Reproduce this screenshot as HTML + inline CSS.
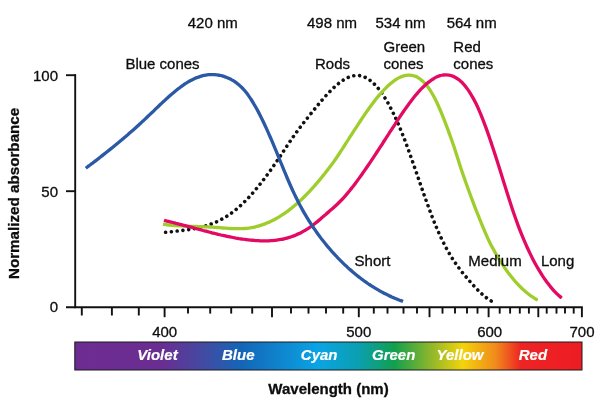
<!DOCTYPE html>
<html><head><meta charset="utf-8"><style>
html,body{margin:0;padding:0;background:#fff;}
body{width:600px;height:408px;position:relative;overflow:hidden;font-family:"Liberation Sans",sans-serif;}
svg{position:absolute;left:0;top:0;will-change:transform;}
text{font-family:"Liberation Sans",sans-serif;font-size:15px;fill:#0d0d0d;stroke:#0d0d0d;stroke-width:0.3px;}
.b{font-weight:bold;}
.w{font-weight:bold;font-style:italic;fill:#fff;stroke:#fff;stroke-width:0.2px;}
</style></head><body>
<svg width="600" height="408" viewBox="0 0 600 408">
<defs>
<linearGradient id="sp" x1="0" x2="1" y1="0" y2="0">
<stop offset="0" stop-color="#6d2c91"/>
<stop offset="0.17" stop-color="#6a2d92"/>
<stop offset="0.26" stop-color="#3f4da3"/>
<stop offset="0.33" stop-color="#1366b8"/>
<stop offset="0.48" stop-color="#0aa4e4"/>
<stop offset="0.56" stop-color="#0a9fb0"/>
<stop offset="0.63" stop-color="#12a04e"/>
<stop offset="0.70" stop-color="#8cb52c"/>
<stop offset="0.765" stop-color="#f2d40c"/>
<stop offset="0.83" stop-color="#f18a1c"/>
<stop offset="0.88" stop-color="#ed2424"/>
<stop offset="1" stop-color="#ed1c24"/>
</linearGradient>
</defs>
<rect x="74.8" y="342" width="507.2" height="28" fill="url(#sp)" stroke="#1a1a1a" stroke-width="1"/>
<g stroke="#111" stroke-width="1.9" fill="none">
<line x1="75.2" y1="74.3" x2="75.2" y2="308.2"/>
<line x1="66" y1="307.3" x2="582.8" y2="307.3"/>
<line x1="66" y1="75.2" x2="76" y2="75.2"/>
<line x1="66" y1="191.2" x2="76" y2="191.2"/>
<line x1="81.8" y1="307.3" x2="81.8" y2="315.5"/><line x1="111.9" y1="307.3" x2="111.9" y2="315.5"/><line x1="138.8" y1="307.3" x2="138.8" y2="315.5"/><line x1="164.6" y1="307.3" x2="164.6" y2="317.2"/><line x1="188.0" y1="307.3" x2="188.0" y2="313.6"/><line x1="210.2" y1="307.3" x2="210.2" y2="313.6"/><line x1="231.2" y1="307.3" x2="231.2" y2="313.6"/><line x1="252.2" y1="307.3" x2="252.2" y2="313.6"/><line x1="272.0" y1="307.3" x2="272.0" y2="317.2"/><line x1="291.0" y1="307.3" x2="291.0" y2="313.6"/><line x1="308.5" y1="307.3" x2="308.5" y2="313.6"/><line x1="326.0" y1="307.3" x2="326.0" y2="313.6"/><line x1="343.2" y1="307.3" x2="343.2" y2="313.6"/><line x1="358.8" y1="307.3" x2="358.8" y2="317.2"/><line x1="373.8" y1="307.3" x2="373.8" y2="313.6"/><line x1="387.5" y1="307.3" x2="387.5" y2="313.6"/><line x1="403.5" y1="307.3" x2="403.5" y2="313.6"/><line x1="417.0" y1="307.3" x2="417.0" y2="313.6"/><line x1="429.5" y1="307.3" x2="429.5" y2="317.2"/><line x1="442.5" y1="307.3" x2="442.5" y2="313.6"/><line x1="455.0" y1="307.3" x2="455.0" y2="313.6"/><line x1="467.0" y1="307.3" x2="467.0" y2="313.6"/><line x1="477.5" y1="307.3" x2="477.5" y2="313.6"/><line x1="488.6" y1="307.3" x2="488.6" y2="317.2"/><line x1="499.7" y1="307.3" x2="499.7" y2="313.6"/><line x1="510.1" y1="307.3" x2="510.1" y2="313.6"/><line x1="519.8" y1="307.3" x2="519.8" y2="313.6"/><line x1="528.9" y1="307.3" x2="528.9" y2="313.6"/><line x1="538.3" y1="307.3" x2="538.3" y2="317.2"/><line x1="546.7" y1="307.3" x2="546.7" y2="313.6"/><line x1="556.5" y1="307.3" x2="556.5" y2="313.6"/><line x1="565.0" y1="307.3" x2="565.0" y2="313.6"/><line x1="573.7" y1="307.3" x2="573.7" y2="313.6"/><line x1="581.9" y1="307.3" x2="581.9" y2="317.2"/>
</g>
<g fill="none" stroke-width="3.3" stroke-linecap="butt">
<path d="M165.6,232.3C166.6,232.2 167.6,232.1 168.6,232.0C169.6,231.9 170.6,231.8 171.6,231.7C172.6,231.6 173.6,231.5 174.6,231.3C175.6,231.2 176.6,231.1 177.6,231.0C178.6,230.9 179.6,230.8 180.6,230.7C181.6,230.6 182.6,230.4 183.6,230.3C184.6,230.2 185.6,230.1 186.6,229.9C187.6,229.8 188.6,229.6 189.6,229.5C190.6,229.3 191.6,229.1 192.6,229.0C193.6,228.8 194.6,228.6 195.6,228.4C196.6,228.2 197.6,228.0 198.6,227.8C199.6,227.5 200.6,227.3 201.6,227.0C202.6,226.8 203.6,226.5 204.6,226.2C205.6,225.9 206.6,225.6 207.6,225.3C208.6,224.9 209.6,224.6 210.6,224.2C211.6,223.9 212.6,223.5 213.6,223.1C214.6,222.7 215.6,222.2 216.6,221.8C217.6,221.3 218.6,220.8 219.6,220.3C220.6,219.8 221.6,219.3 222.6,218.8C223.6,218.2 224.6,217.6 225.6,217.0C226.6,216.4 227.6,215.7 228.6,215.1C229.6,214.4 230.6,213.7 231.6,213.0C232.6,212.2 233.6,211.5 234.6,210.7C235.6,209.9 236.6,209.1 237.6,208.2C238.6,207.3 239.6,206.4 240.6,205.5C241.6,204.6 242.6,203.7 243.6,202.7C244.6,201.7 245.6,200.7 246.6,199.7C247.6,198.6 248.6,197.6 249.6,196.5C250.6,195.4 251.6,194.3 252.6,193.2C253.6,192.0 254.6,190.9 255.6,189.7C256.6,188.5 257.6,187.3 258.6,186.0C259.6,184.8 260.6,183.5 261.6,182.3C262.6,181.0 263.6,179.7 264.6,178.3C265.6,177.0 266.6,175.7 267.6,174.3C268.6,172.9 269.6,171.6 270.6,170.2C271.6,168.8 272.6,167.3 273.6,165.9C274.6,164.4 275.6,163.0 276.6,161.5C277.6,160.0 278.6,158.6 279.6,157.1C280.6,155.6 281.6,154.1 282.6,152.6C283.6,151.1 284.6,149.5 285.6,148.0C286.6,146.5 287.6,145.1 288.6,143.6C289.6,142.1 290.6,140.6 291.6,139.2C292.6,137.7 293.6,136.3 294.6,134.9C295.6,133.5 296.6,132.1 297.6,130.8C298.6,129.4 299.6,128.1 300.6,126.7C301.6,125.4 302.6,124.1 303.6,122.8C304.6,121.6 305.6,120.3 306.6,119.0C307.6,117.8 308.6,116.5 309.6,115.3C310.6,114.0 311.6,112.8 312.6,111.6C313.6,110.3 314.6,109.1 315.6,107.9C316.6,106.6 317.6,105.4 318.6,104.2C319.6,103.0 320.6,101.8 321.6,100.6C322.6,99.5 323.6,98.3 324.6,97.2C325.6,96.0 326.6,94.9 327.6,93.9C328.6,92.8 329.6,91.7 330.6,90.7C331.6,89.7 332.6,88.7 333.6,87.8C334.6,86.8 335.6,85.9 336.6,85.1C337.6,84.2 338.6,83.4 339.6,82.6C340.6,81.9 341.6,81.2 342.6,80.5C343.6,79.8 344.6,79.2 345.6,78.7C346.6,78.2 347.6,77.7 348.6,77.3C349.6,76.9 350.6,76.5 351.6,76.2C352.6,75.9 353.6,75.7 354.6,75.6C355.6,75.5 356.6,75.4 357.6,75.4C358.6,75.5 359.6,75.6 360.6,75.8C361.6,76.0 362.6,76.3 363.6,76.6C364.6,77.0 365.6,77.5 366.6,78.0C367.6,78.6 368.6,79.2 369.6,79.9C370.6,80.7 371.6,81.5 372.6,82.4C373.6,83.3 374.6,84.3 375.6,85.4C376.6,86.5 377.6,87.6 378.6,88.9C379.6,90.1 380.6,91.5 381.6,92.9C382.6,94.3 383.6,95.8 384.6,97.4C385.6,99.0 386.6,100.6 387.6,102.4C388.6,104.1 389.6,106.0 390.6,107.9C391.6,109.8 392.6,111.8 393.6,113.8C394.6,115.9 395.6,118.0 396.6,120.3C397.6,122.5 398.6,124.8 399.6,127.1C400.6,129.5 401.6,132.0 402.6,134.5C403.6,137.0 404.6,139.6 405.6,142.3C406.6,144.9 407.6,147.6 408.6,150.4C409.6,153.2 410.6,156.0 411.6,158.8C412.6,161.6 413.6,164.5 414.6,167.4C415.6,170.3 416.6,173.2 417.6,176.0C418.6,178.9 419.6,181.8 420.6,184.7C421.6,187.6 422.6,190.5 423.6,193.4C424.6,196.2 425.6,199.0 426.6,201.8C427.6,204.6 428.6,207.3 429.6,210.0C430.6,212.7 431.6,215.4 432.6,217.9C433.6,220.5 434.6,223.0 435.6,225.4C436.6,227.8 437.6,230.1 438.6,232.4C439.6,234.6 440.6,236.8 441.6,238.9C442.6,241.0 443.6,243.0 444.6,244.9C445.6,246.8 446.6,248.7 447.6,250.5C448.6,252.3 449.6,254.0 450.6,255.6C451.6,257.3 452.6,258.9 453.6,260.4C454.6,261.9 455.6,263.4 456.6,264.8C457.6,266.2 458.6,267.6 459.6,268.9C460.6,270.2 461.6,271.5 462.6,272.8C463.6,274.0 464.6,275.2 465.6,276.4C466.6,277.6 467.6,278.8 468.6,280.0C469.6,281.1 470.6,282.2 471.6,283.4C472.6,284.5 473.6,285.6 474.6,286.7C475.6,287.7 476.6,288.8 477.6,289.8C478.6,290.8 479.6,291.8 480.6,292.7C481.6,293.7 482.6,294.6 483.6,295.5C484.6,296.3 485.6,297.1 486.6,297.9C487.6,298.6 488.6,299.3 489.6,300.0C490.4,300.5 491.2,301.0 492.0,301.4" stroke="#111" stroke-width="3.6" stroke-dasharray="0.01 5.8" stroke-linecap="round"/>
<path d="M163.0,224.2C164.0,224.4 165.0,224.5 166.0,224.6C167.0,224.7 168.0,224.9 169.0,225.0C170.0,225.1 171.0,225.2 172.0,225.3C173.0,225.3 174.0,225.4 175.0,225.5C176.0,225.6 177.0,225.7 178.0,225.7C179.0,225.8 180.0,225.8 181.0,225.9C182.0,225.9 183.0,226.0 184.0,226.0C185.0,226.1 186.0,226.1 187.0,226.2C188.0,226.2 189.0,226.2 190.0,226.3C191.0,226.3 192.0,226.4 193.0,226.4C194.0,226.4 195.0,226.5 196.0,226.5C197.0,226.5 198.0,226.5 199.0,226.6C200.0,226.6 201.0,226.6 202.0,226.7C203.0,226.7 204.0,226.8 205.0,226.8C206.0,226.8 207.0,226.9 208.0,226.9C209.0,227.0 210.0,227.0 211.0,227.1C212.0,227.2 213.0,227.2 214.0,227.3C215.0,227.4 216.0,227.4 217.0,227.5C218.0,227.6 219.0,227.7 220.0,227.7C221.0,227.8 222.0,227.9 223.0,228.0C224.0,228.1 225.0,228.1 226.0,228.2C227.0,228.3 228.0,228.4 229.0,228.4C230.0,228.5 231.0,228.5 232.0,228.6C233.0,228.6 234.0,228.7 235.0,228.7C236.0,228.7 237.0,228.7 238.0,228.7C239.0,228.7 240.0,228.7 241.0,228.7C242.0,228.6 243.0,228.6 244.0,228.5C245.0,228.5 246.0,228.4 247.0,228.3C248.0,228.2 249.0,228.0 250.0,227.9C251.0,227.7 252.0,227.6 253.0,227.4C254.0,227.2 255.0,226.9 256.0,226.7C257.0,226.5 258.0,226.2 259.0,225.9C260.0,225.6 261.0,225.3 262.0,224.9C263.0,224.6 264.0,224.2 265.0,223.9C266.0,223.5 267.0,223.1 268.0,222.6C269.0,222.2 270.0,221.7 271.0,221.3C272.0,220.8 273.0,220.3 274.0,219.8C275.0,219.2 276.0,218.7 277.0,218.1C278.0,217.5 279.0,216.9 280.0,216.3C281.0,215.7 282.0,215.1 283.0,214.4C284.0,213.7 285.0,213.0 286.0,212.3C287.0,211.6 288.0,210.9 289.0,210.1C290.0,209.4 291.0,208.6 292.0,207.8C293.0,207.0 294.0,206.1 295.0,205.3C296.0,204.4 297.0,203.6 298.0,202.7C299.0,201.8 300.0,200.8 301.0,199.9C302.0,199.0 303.0,198.0 304.0,197.0C305.0,196.0 306.0,195.0 307.0,194.0C308.0,192.9 309.0,191.9 310.0,190.8C311.0,189.7 312.0,188.6 313.0,187.5C314.0,186.4 315.0,185.3 316.0,184.1C317.0,183.0 318.0,181.8 319.0,180.6C320.0,179.4 321.0,178.2 322.0,177.0C323.0,175.8 324.0,174.5 325.0,173.3C326.0,172.0 327.0,170.7 328.0,169.4C329.0,168.2 330.0,166.8 331.0,165.5C332.0,164.2 333.0,162.8 334.0,161.4C335.0,160.0 336.0,158.5 337.0,157.0C338.0,155.5 339.0,154.0 340.0,152.5C341.0,151.0 342.0,149.4 343.0,147.9C344.0,146.3 345.0,144.8 346.0,143.2C347.0,141.7 348.0,140.1 349.0,138.5C350.0,137.0 351.0,135.4 352.0,133.9C353.0,132.3 354.0,130.7 355.0,129.2C356.0,127.6 357.0,126.1 358.0,124.6C359.0,123.1 360.0,121.5 361.0,120.0C362.0,118.5 363.0,117.0 364.0,115.6C365.0,114.1 366.0,112.7 367.0,111.2C368.0,109.8 369.0,108.4 370.0,107.0C371.0,105.6 372.0,104.3 373.0,103.0C374.0,101.6 375.0,100.4 376.0,99.1C377.0,97.8 378.0,96.6 379.0,95.4C380.0,94.2 381.0,93.1 382.0,92.0C383.0,90.9 384.0,89.8 385.0,88.8C386.0,87.8 387.0,86.8 388.0,85.8C389.0,84.9 390.0,84.0 391.0,83.2C392.0,82.4 393.0,81.6 394.0,80.9C395.0,80.2 396.0,79.5 397.0,78.9C398.0,78.3 399.0,77.7 400.0,77.3C401.0,76.8 402.0,76.4 403.0,76.1C404.0,75.8 405.0,75.5 406.0,75.3C407.0,75.2 408.0,75.1 409.0,75.1C410.0,75.1 411.0,75.2 412.0,75.3C413.0,75.5 414.0,75.8 415.0,76.2C416.0,76.5 417.0,77.0 418.0,77.6C419.0,78.2 420.0,78.9 421.0,79.7C422.0,80.5 423.0,81.4 424.0,82.4C425.0,83.4 426.0,84.6 427.0,85.8C428.0,87.1 429.0,88.5 430.0,90.0C431.0,91.6 432.0,93.2 433.0,95.0C434.0,96.8 435.0,98.7 436.0,100.8C437.0,102.8 438.0,105.0 439.0,107.2C440.0,109.5 441.0,111.8 442.0,114.3C443.0,116.7 444.0,119.3 445.0,121.8C446.0,124.4 447.0,127.1 448.0,129.8C449.0,132.5 450.0,135.3 451.0,138.1C452.0,141.0 453.0,143.8 454.0,146.8C455.0,149.8 456.0,152.8 457.0,155.9C458.0,159.1 459.0,162.2 460.0,165.4C461.0,168.5 462.0,171.5 463.0,174.4C464.0,177.3 465.0,180.2 466.0,183.0C467.0,185.8 468.0,188.6 469.0,191.3C470.0,194.1 471.0,196.7 472.0,199.4C473.0,202.1 474.0,204.7 475.0,207.3C476.0,209.9 477.0,212.4 478.0,214.9C479.0,217.5 480.0,220.0 481.0,222.4C482.0,224.9 483.0,227.3 484.0,229.7C485.0,232.1 486.0,234.4 487.0,236.6C488.0,238.8 489.0,240.9 490.0,242.9C491.0,244.9 492.0,246.8 493.0,248.6C494.0,250.5 495.0,252.2 496.0,254.0C497.0,255.7 498.0,257.4 499.0,259.0C500.0,260.6 501.0,262.2 502.0,263.7C503.0,265.3 504.0,266.8 505.0,268.2C506.0,269.6 507.0,271.0 508.0,272.4C509.0,273.7 510.0,275.1 511.0,276.3C512.0,277.6 513.0,278.8 514.0,280.0C515.0,281.2 516.0,282.3 517.0,283.4C518.0,284.5 519.0,285.5 520.0,286.5C521.0,287.5 522.0,288.5 523.0,289.4C524.0,290.4 525.0,291.2 526.0,292.1C527.0,292.9 528.0,293.7 529.0,294.5C530.0,295.3 531.0,296.0 532.0,296.7C533.0,297.4 534.0,298.0 535.0,298.6C535.9,299.1 536.7,299.6 537.6,300.1" stroke="#9ecd2c"/>
<path d="M164.0,220.4C165.0,220.7 166.0,220.9 167.0,221.1C168.0,221.3 169.0,221.6 170.0,221.8C171.0,222.1 172.0,222.3 173.0,222.5C174.0,222.8 175.0,223.0 176.0,223.3C177.0,223.5 178.0,223.8 179.0,224.1C180.0,224.3 181.0,224.6 182.0,224.8C183.0,225.1 184.0,225.4 185.0,225.6C186.0,225.9 187.0,226.2 188.0,226.4C189.0,226.7 190.0,227.0 191.0,227.2C192.0,227.5 193.0,227.8 194.0,228.0C195.0,228.3 196.0,228.6 197.0,228.8C198.0,229.1 199.0,229.4 200.0,229.7C201.0,229.9 202.0,230.2 203.0,230.5C204.0,230.7 205.0,231.0 206.0,231.2C207.0,231.5 208.0,231.8 209.0,232.0C210.0,232.3 211.0,232.5 212.0,232.8C213.0,233.0 214.0,233.3 215.0,233.5C216.0,233.8 217.0,234.0 218.0,234.3C219.0,234.5 220.0,234.7 221.0,235.0C222.0,235.2 223.0,235.4 224.0,235.6C225.0,235.9 226.0,236.1 227.0,236.3C228.0,236.5 229.0,236.7 230.0,236.9C231.0,237.1 232.0,237.3 233.0,237.5C234.0,237.7 235.0,237.9 236.0,238.1C237.0,238.2 238.0,238.4 239.0,238.6C240.0,238.7 241.0,238.9 242.0,239.0C243.0,239.2 244.0,239.3 245.0,239.4C246.0,239.6 247.0,239.7 248.0,239.8C249.0,239.9 250.0,240.0 251.0,240.1C252.0,240.2 253.0,240.3 254.0,240.4C255.0,240.5 256.0,240.6 257.0,240.6C258.0,240.7 259.0,240.7 260.0,240.8C261.0,240.8 262.0,240.8 263.0,240.8C264.0,240.9 265.0,240.9 266.0,240.8C267.0,240.8 268.0,240.8 269.0,240.8C270.0,240.7 271.0,240.7 272.0,240.6C273.0,240.5 274.0,240.4 275.0,240.3C276.0,240.2 277.0,240.1 278.0,239.9C279.0,239.8 280.0,239.6 281.0,239.4C282.0,239.3 283.0,239.1 284.0,238.8C285.0,238.6 286.0,238.4 287.0,238.1C288.0,237.8 289.0,237.5 290.0,237.2C291.0,236.9 292.0,236.5 293.0,236.2C294.0,235.8 295.0,235.4 296.0,235.0C297.0,234.6 298.0,234.1 299.0,233.6C300.0,233.2 301.0,232.7 302.0,232.1C303.0,231.6 304.0,231.0 305.0,230.4C306.0,229.9 307.0,229.2 308.0,228.6C309.0,227.9 310.0,227.2 311.0,226.5C312.0,225.8 313.0,225.0 314.0,224.3C315.0,223.5 316.0,222.7 317.0,221.9C318.0,221.0 319.0,220.2 320.0,219.4C321.0,218.5 322.0,217.6 323.0,216.8C324.0,215.9 325.0,215.0 326.0,214.2C327.0,213.3 328.0,212.4 329.0,211.6C330.0,210.7 331.0,209.8 332.0,209.0C333.0,208.1 334.0,207.2 335.0,206.3C336.0,205.4 337.0,204.5 338.0,203.5C339.0,202.5 340.0,201.5 341.0,200.5C342.0,199.5 343.0,198.4 344.0,197.3C345.0,196.2 346.0,195.1 347.0,193.9C348.0,192.7 349.0,191.5 350.0,190.3C351.0,189.0 352.0,187.8 353.0,186.5C354.0,185.2 355.0,183.9 356.0,182.5C357.0,181.2 358.0,179.8 359.0,178.4C360.0,177.0 361.0,175.6 362.0,174.2C363.0,172.8 364.0,171.4 365.0,169.9C366.0,168.5 367.0,167.0 368.0,165.5C369.0,164.1 370.0,162.6 371.0,161.1C372.0,159.6 373.0,158.1 374.0,156.6C375.0,155.1 376.0,153.5 377.0,152.0C378.0,150.5 379.0,149.0 380.0,147.4C381.0,145.9 382.0,144.4 383.0,142.8C384.0,141.3 385.0,139.7 386.0,138.2C387.0,136.6 388.0,135.1 389.0,133.5C390.0,132.0 391.0,130.4 392.0,128.9C393.0,127.3 394.0,125.8 395.0,124.3C396.0,122.7 397.0,121.2 398.0,119.7C399.0,118.2 400.0,116.7 401.0,115.2C402.0,113.7 403.0,112.2 404.0,110.8C405.0,109.4 406.0,107.9 407.0,106.5C408.0,105.1 409.0,103.8 410.0,102.4C411.0,101.1 412.0,99.8 413.0,98.5C414.0,97.2 415.0,96.0 416.0,94.8C417.0,93.6 418.0,92.5 419.0,91.3C420.0,90.2 421.0,89.1 422.0,88.1C423.0,87.1 424.0,86.1 425.0,85.2C426.0,84.3 427.0,83.4 428.0,82.6C429.0,81.8 430.0,81.0 431.0,80.3C432.0,79.6 433.0,78.9 434.0,78.4C435.0,77.8 436.0,77.3 437.0,76.8C438.0,76.4 439.0,76.0 440.0,75.7C441.0,75.4 442.0,75.2 443.0,75.0C444.0,74.9 445.0,74.8 446.0,74.8C447.0,74.8 448.0,74.9 449.0,75.1C450.0,75.3 451.0,75.5 452.0,75.9C453.0,76.2 454.0,76.7 455.0,77.2C456.0,77.7 457.0,78.4 458.0,79.1C459.0,79.8 460.0,80.6 461.0,81.6C462.0,82.5 463.0,83.5 464.0,84.7C465.0,85.8 466.0,87.1 467.0,88.4C468.0,89.8 469.0,91.2 470.0,92.8C471.0,94.4 472.0,96.1 473.0,97.9C474.0,99.7 475.0,101.6 476.0,103.6C477.0,105.7 478.0,107.8 479.0,110.1C480.0,112.4 481.0,114.8 482.0,117.3C483.0,119.8 484.0,122.4 485.0,125.1C486.0,127.7 487.0,130.5 488.0,133.4C489.0,136.2 490.0,139.2 491.0,142.1C492.0,145.1 493.0,148.2 494.0,151.2C495.0,154.3 496.0,157.4 497.0,160.6C498.0,163.8 499.0,166.9 500.0,170.1C501.0,173.3 502.0,176.5 503.0,179.7C504.0,182.9 505.0,186.1 506.0,189.2C507.0,192.4 508.0,195.6 509.0,198.7C510.0,201.8 511.0,204.9 512.0,207.9C513.0,211.0 514.0,213.9 515.0,216.8C516.0,219.7 517.0,222.4 518.0,225.1C519.0,227.8 520.0,230.4 521.0,232.9C522.0,235.4 523.0,237.8 524.0,240.2C525.0,242.5 526.0,244.8 527.0,247.0C528.0,249.2 529.0,251.3 530.0,253.4C531.0,255.5 532.0,257.5 533.0,259.4C534.0,261.3 535.0,263.2 536.0,265.0C537.0,266.8 538.0,268.5 539.0,270.2C540.0,271.9 541.0,273.5 542.0,275.0C543.0,276.6 544.0,278.1 545.0,279.5C546.0,280.9 547.0,282.3 548.0,283.6C549.0,284.9 550.0,286.2 551.0,287.4C552.0,288.6 553.0,289.7 554.0,290.8C555.0,291.9 556.0,292.9 557.0,293.9C558.0,294.9 559.0,295.8 560.0,296.6C560.5,297.1 561.1,297.5 561.6,298.0" stroke="#e20a62"/>
<circle cx="536.29" cy="299.37" r="1.65" fill="#9ecd2c" stroke="none"/><circle cx="560.54" cy="296.94" r="1.65" fill="#e20a62" stroke="none"/>
<path d="M85.8,168.2C86.8,167.4 87.8,166.7 88.8,165.9C89.8,165.2 90.8,164.4 91.8,163.7C92.8,162.9 93.8,162.1 94.8,161.4C95.8,160.6 96.8,159.8 97.8,159.1C98.8,158.3 99.8,157.5 100.8,156.7C101.8,156.0 102.8,155.2 103.8,154.4C104.8,153.6 105.8,152.8 106.8,152.0C107.8,151.2 108.8,150.4 109.8,149.6C110.8,148.8 111.8,148.0 112.8,147.2C113.8,146.4 114.8,145.6 115.8,144.8C116.8,143.9 117.8,143.1 118.8,142.3C119.8,141.4 120.8,140.6 121.8,139.8C122.8,138.9 123.8,138.1 124.8,137.2C125.8,136.4 126.8,135.5 127.8,134.7C128.8,133.8 129.8,132.9 130.8,132.0C131.8,131.2 132.8,130.3 133.8,129.4C134.8,128.5 135.8,127.6 136.8,126.7C137.8,125.8 138.8,124.9 139.8,124.0C140.8,123.1 141.8,122.2 142.8,121.2C143.8,120.3 144.8,119.4 145.8,118.4C146.8,117.5 147.8,116.5 148.8,115.6C149.8,114.6 150.8,113.7 151.8,112.7C152.8,111.8 153.8,110.8 154.8,109.8C155.8,108.9 156.8,107.9 157.8,107.0C158.8,106.0 159.8,105.0 160.8,104.1C161.8,103.1 162.8,102.2 163.8,101.3C164.8,100.3 165.8,99.4 166.8,98.5C167.8,97.6 168.8,96.7 169.8,95.8C170.8,94.9 171.8,94.1 172.8,93.2C173.8,92.4 174.8,91.5 175.8,90.7C176.8,89.9 177.8,89.1 178.8,88.3C179.8,87.6 180.8,86.8 181.8,86.1C182.8,85.4 183.8,84.7 184.8,84.0C185.8,83.4 186.8,82.7 187.8,82.1C188.8,81.5 189.8,81.0 190.8,80.4C191.8,79.9 192.8,79.4 193.8,78.9C194.8,78.5 195.8,78.0 196.8,77.7C197.8,77.3 198.8,76.9 199.8,76.6C200.8,76.3 201.8,76.0 202.8,75.7C203.8,75.5 204.8,75.3 205.8,75.1C206.8,74.9 207.8,74.8 208.8,74.7C209.8,74.6 210.8,74.6 211.8,74.6C212.8,74.5 213.8,74.6 214.8,74.6C215.8,74.7 216.8,74.8 217.8,75.0C218.8,75.1 219.8,75.3 220.8,75.5C221.8,75.8 222.8,76.1 223.8,76.4C224.8,76.7 225.8,77.1 226.8,77.5C227.8,77.9 228.8,78.3 229.8,78.8C230.8,79.3 231.8,79.9 232.8,80.4C233.8,81.0 234.8,81.7 235.8,82.4C236.8,83.1 237.8,83.9 238.8,84.7C239.8,85.6 240.8,86.5 241.8,87.5C242.8,88.5 243.8,89.6 244.8,90.8C245.8,92.0 246.8,93.3 247.8,94.6C248.8,96.0 249.8,97.4 250.8,99.0C251.8,100.5 252.8,102.1 253.8,103.8C254.8,105.4 255.8,107.2 256.8,109.0C257.8,110.9 258.8,112.7 259.8,114.7C260.8,116.7 261.8,118.7 262.8,120.7C263.8,122.8 264.8,124.9 265.8,127.1C266.8,129.3 267.8,131.5 268.8,133.8C269.8,136.1 270.8,138.4 271.8,140.7C272.8,143.0 273.8,145.4 274.8,147.8C275.8,150.2 276.8,152.7 277.8,155.1C278.8,157.6 279.8,160.0 280.8,162.5C281.8,164.9 282.8,167.4 283.8,169.8C284.8,172.2 285.8,174.6 286.8,177.0C287.8,179.4 288.8,181.7 289.8,184.0C290.8,186.3 291.8,188.5 292.8,190.7C293.8,192.8 294.8,194.9 295.8,197.0C296.8,199.0 297.8,201.0 298.8,202.9C299.8,204.9 300.8,206.7 301.8,208.6C302.8,210.4 303.8,212.2 304.8,213.9C305.8,215.6 306.8,217.3 307.8,218.9C308.8,220.6 309.8,222.2 310.8,223.7C311.8,225.3 312.8,226.8 313.8,228.2C314.8,229.7 315.8,231.1 316.8,232.5C317.8,233.9 318.8,235.3 319.8,236.6C320.8,238.0 321.8,239.3 322.8,240.5C323.8,241.8 324.8,243.0 325.8,244.2C326.8,245.5 327.8,246.7 328.8,247.8C329.8,249.0 330.8,250.1 331.8,251.3C332.8,252.4 333.8,253.5 334.8,254.6C335.8,255.7 336.8,256.7 337.8,257.8C338.8,258.8 339.8,259.8 340.8,260.8C341.8,261.8 342.8,262.8 343.8,263.8C344.8,264.8 345.8,265.7 346.8,266.6C347.8,267.6 348.8,268.5 349.8,269.4C350.8,270.2 351.8,271.1 352.8,272.0C353.8,272.8 354.8,273.7 355.8,274.5C356.8,275.3 357.8,276.1 358.8,276.9C359.8,277.7 360.8,278.4 361.8,279.2C362.8,279.9 363.8,280.7 364.8,281.4C365.8,282.1 366.8,282.8 367.8,283.5C368.8,284.2 369.8,284.8 370.8,285.5C371.8,286.1 372.8,286.8 373.8,287.4C374.8,288.0 375.8,288.6 376.8,289.2C377.8,289.8 378.8,290.4 379.8,290.9C380.8,291.5 381.8,292.0 382.8,292.5C383.8,293.1 384.8,293.6 385.8,294.1C386.8,294.6 387.8,295.1 388.8,295.6C389.8,296.0 390.8,296.5 391.8,297.0C392.8,297.4 393.8,297.8 394.8,298.3C395.8,298.7 396.8,299.1 397.8,299.5C398.8,299.9 399.8,300.3 400.8,300.7C401.5,300.9 402.3,301.2 403.0,301.5" stroke="#2b59a6"/>
</g>
<text x="58" y="81" text-anchor="end">100</text>
<text x="58" y="196.6" text-anchor="end">50</text>
<text x="58" y="311.9" text-anchor="end">0</text>
<text x="212.8" y="27.6" text-anchor="middle">420 nm</text>
<text x="332" y="27.6" text-anchor="middle">498 nm</text>
<text x="400.5" y="27.6" text-anchor="middle">534 nm</text>
<text x="471.7" y="27.6" text-anchor="middle">564 nm</text>
<text x="125.4" y="68.9">Blue cones</text>
<text x="315" y="68.9">Rods</text>
<text x="383.5" y="52.2">Green</text>
<text x="383.5" y="68.9">cones</text>
<text x="453.3" y="52.2">Red</text>
<text x="453.3" y="68.9">cones</text>
<text x="354.6" y="265.8">Short</text>
<text x="468.3" y="265.8">Medium</text>
<text x="540.9" y="265.8">Long</text>
<text x="164.7" y="336.7" text-anchor="middle">400</text>
<text x="358.8" y="336.7" text-anchor="middle">500</text>
<text x="489.7" y="336.7" text-anchor="middle">600</text>
<text x="582" y="336.7" text-anchor="middle">700</text>
<text class="w" x="157.5" y="360" text-anchor="middle">Violet</text>
<text class="w" x="238.3" y="360" text-anchor="middle">Blue</text>
<text class="w" x="319.2" y="360" text-anchor="middle">Cyan</text>
<text class="w" x="393.7" y="360" text-anchor="middle">Green</text>
<text class="w" x="460" y="360" text-anchor="middle">Yellow</text>
<text class="w" x="532.9" y="360" text-anchor="middle">Red</text>
<text class="b" x="328.5" y="393.6" text-anchor="middle">Wavelength (nm)</text>
<text class="b" style="font-size:15.2px" transform="translate(18.8,193.4) rotate(-90)" text-anchor="middle">Normalized absorbance</text>
</svg>
</body></html>
